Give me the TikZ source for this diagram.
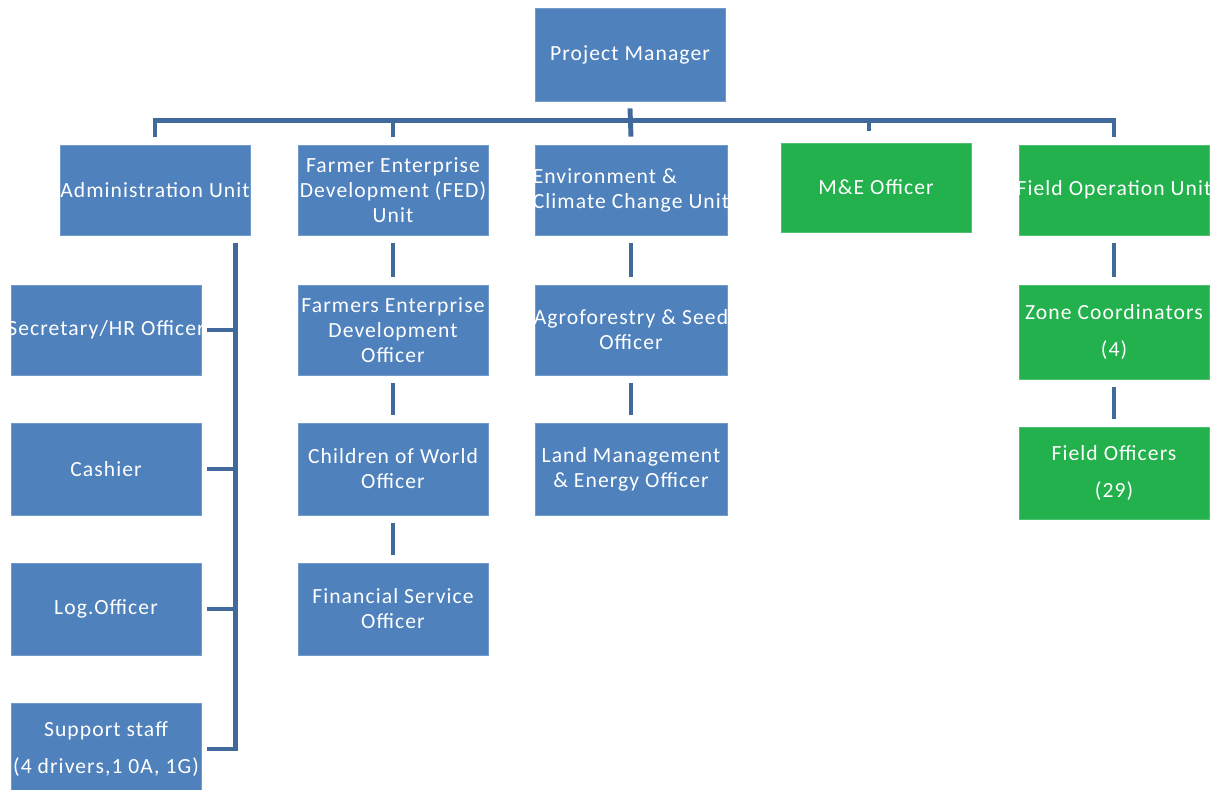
\documentclass[tikz,border=0pt]{standalone}
\usepackage{fontspec}
\setmainfont{Carlito}[LetterSpace=5]
\definecolor{boxblue}{HTML}{4F81BD}
\definecolor{boxgreen}{HTML}{22B14C}
\definecolor{linkblue}{HTML}{41699B}
\tikzset{
  orgbox/.style={fill=boxblue, draw=boxblue!80!white, line width=0.4pt, minimum width=3.8cm, minimum height=1.8cm,
    inner sep=0pt},
  greenbox/.style={orgbox, fill=boxgreen, draw=boxgreen!80!white},
  lbl/.style={text=white, align=center, inner sep=0pt, font=\fontsize{12.3}{14.2}\selectfont},
  conn/.style={draw=linkblue, line width=2.8pt, line cap=butt, line join=miter}
}
\begin{document}
\begin{tikzpicture}[x=0.02cm, y=-0.02cm]
\useasboundingbox (0,0) rectangle (1225,789);
% top
\node[orgbox, minimum height=1.86cm, label={[lbl]center:Project Manager}] (pm) at (630,54.5) {};
% row 1
\node[orgbox, label={[lbl]center:Administration Unit}] (adm) at (155,190) {};
\node[orgbox, label={[lbl]center:Farmer Enterprise\\Development (FED)\\Unit}] (fed) at (393,190) {};
\node[orgbox, minimum width=3.84cm, label={[lbl, align=left]center:Environment \&\\Climate Change Unit}] (env) at (631,190) {};
\node[greenbox, minimum height=1.78cm, label={[lbl]center:M\&E Officer}] (me) at (876,187.5) {};
\node[greenbox, label={[lbl]center:Field Operation Unit}] (fo) at (1114,190) {};
% admin column
\node[orgbox, label={[lbl]center:Secretary/HR Officer}] (sec) at (106,330) {};
\node[orgbox, minimum height=1.84cm, label={[lbl]center:Cashier}] (cash) at (106,469) {};
\node[orgbox, minimum height=1.84cm, label={[lbl]center:Log.Officer}] (log) at (106,609) {};
\node[orgbox, minimum height=1.84cm, label={[lbl]center:Support staff\\[7pt](4 drivers,1 0A, 1G)}] (sup) at (106,749) {};
% FED column
\node[orgbox, label={[lbl]center:Farmers Enterprise\\Development\\Officer}] (feo) at (393,330) {};
\node[orgbox, minimum height=1.84cm, label={[lbl]center:Children of World\\Officer}] (cow) at (393,469) {};
\node[orgbox, minimum height=1.84cm, label={[lbl]center:Financial Service\\Officer}] (fso) at (393,609) {};
% Env column
\node[orgbox, minimum width=3.84cm, label={[lbl]center:Agroforestry \& Seed\\Officer}] (afs) at (631,330) {};
\node[orgbox, minimum width=3.84cm, minimum height=1.84cm, label={[lbl]center:Land Management\\\& Energy Officer}] (lme) at (631,469) {};
% Field column
\node[greenbox, minimum height=1.88cm, label={[lbl]center:Zone Coordinators\\[7pt](4)}] (zc) at (1114,332) {};
\node[greenbox, minimum height=1.84cm, label={[lbl]center:Field Officers\\[7pt](29)}] (fof) at (1114,473) {};
% bus
\draw[conn] ([yshift=.16cm]adm.north) -- ([yshift=.48cm]adm.north) -| ([yshift=.16cm]fo.north);
\draw[conn] ([yshift=.16cm]fed.north) -- ([yshift=.48cm]fed.north);
\draw[conn] ([yshift=-.14cm]pm.south) -- ([yshift=.16cm]env.north);
\draw[conn] ([xshift=-.14cm, yshift=.24cm]me.north) -- ([xshift=-.14cm, yshift=.44cm]me.north);
% admin spine
\coordinate (spine) at ([xshift=-.3cm, yshift=-.16cm]adm.south east);
\draw[conn] (spine) |- ([xshift=.12cm]sup.east);
\draw[conn] ([xshift=.12cm]sec.east) -- (sec.east -| spine);
\draw[conn] ([xshift=.12cm]cash.east) -- (cash.east -| spine);
\draw[conn] ([xshift=.12cm]log.east) -- (log.east -| spine);
% FED column links
\draw[conn] ([yshift=-.16cm]fed.south) -- ([yshift=.16cm]feo.north);
\draw[conn] ([yshift=-.16cm]feo.south) -- ([yshift=.16cm]cow.north);
\draw[conn] ([yshift=-.16cm]cow.south) -- ([yshift=.16cm]fso.north);
% Env column links
\draw[conn] ([yshift=-.16cm]env.south) -- ([yshift=.16cm]afs.north);
\draw[conn] ([yshift=-.16cm]afs.south) -- ([yshift=.16cm]lme.north);
% Field column links
\draw[conn] ([yshift=-.16cm]fo.south) -- ([yshift=.16cm]zc.north);
\draw[conn] ([yshift=-.16cm]zc.south) -- ([yshift=.16cm]fof.north);
\end{tikzpicture}
\end{document}
